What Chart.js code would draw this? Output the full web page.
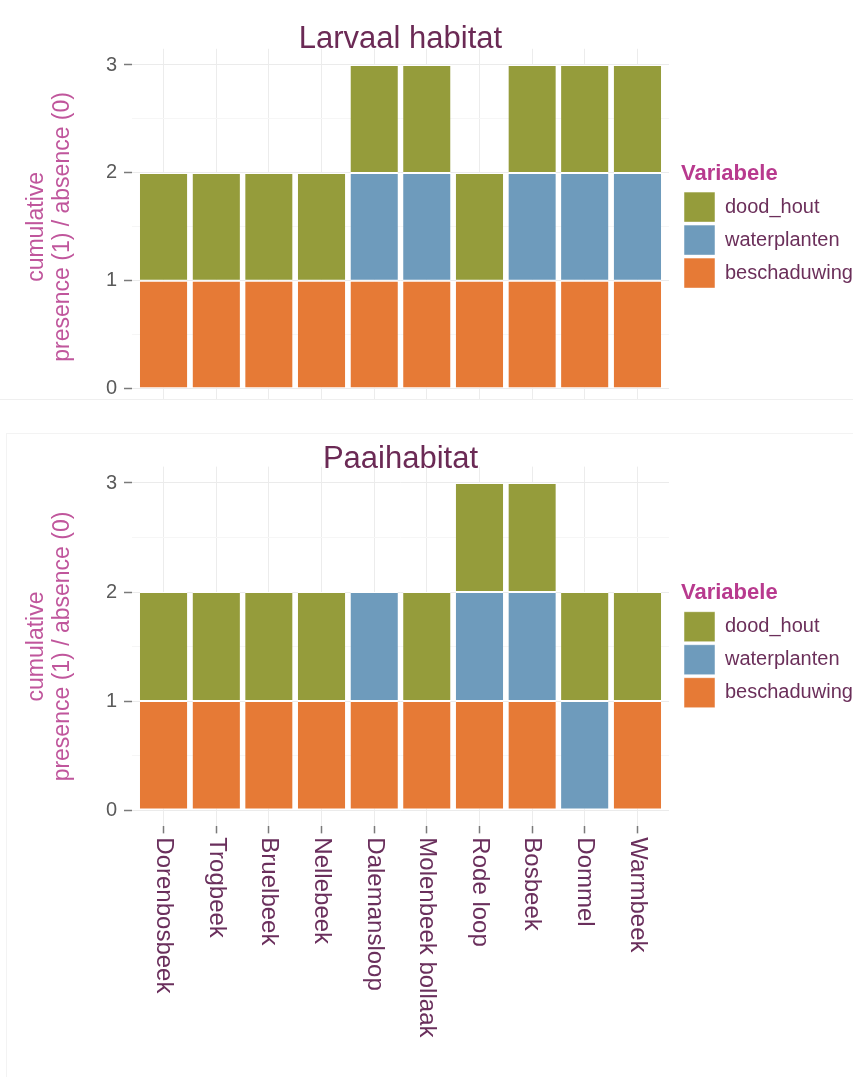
<!DOCTYPE html>
<html>
<head>
<meta charset="utf-8">
<title>Larvaal habitat / Paaihabitat</title>
<script src="https://cdn.jsdelivr.net/npm/chart.js@4/dist/chart.umd.min.js"></script>
<style>
  html, body { margin: 0; padding: 0; background: #ffffff; }
  body { position: relative; width: 853px; height: 1077px; overflow: hidden; }
  .frame { position: absolute; left: 0; width: 853px; overflow: hidden; }
  #frameTop { top: 0; height: 400px; }
  #frameBottom { top: 433px; height: 644px; }
  canvas { display: block; }
  .edge { position: absolute; background: #efefef; }
</style>
</head>
<body>
<div class="frame" id="frameTop"><canvas id="larvaal" width="853" height="422"></canvas></div>
<div class="frame" id="frameBottom"><canvas id="paai" width="853" height="644"></canvas></div>
<div class="edge" style="left:0; top:399px; width:853px; height:1px;"></div>
<div class="edge" style="left:6px; top:433px; width:847px; height:1px; background:#f3f3f3;"></div>
<div class="edge" style="left:6px; top:433px; width:1px; height:644px; background:#f3f3f3;"></div>
<script>
// ---- data ----------------------------------------------------------------
const categories = ['Dorenbosbeek', 'Trogbeek', 'Bruelbeek', 'Nellebeek', 'Dalemansloop',
                    'Molenbeek bollaak', 'Rode loop', 'Bosbeek', 'Dommel', 'Warmbeek'];
const variables = ['beschaduwing', 'waterplanten', 'dood_hout'];   // stacking order, bottom first

const larvaalBeschaduwing = [1, 1, 1, 1, 1, 1, 1, 1, 1, 1];
const larvaalWaterplanten = [0, 0, 0, 0, 1, 1, 0, 1, 1, 1];
const larvaalDoodHout     = [1, 1, 1, 1, 1, 1, 1, 1, 1, 1];

const paaiBeschaduwing = [1, 1, 1, 1, 1, 1, 1, 1, 0, 1];
const paaiWaterplanten = [0, 0, 0, 0, 1, 0, 1, 1, 1, 0];
const paaiDoodHout     = [1, 1, 1, 1, 0, 1, 1, 1, 1, 1];

const yTickValues = [0, 0.5, 1, 1.5, 2, 2.5, 3];
const yTitle = ['cumulative', 'presence (1) / absence (0)'];

// ---- styling -------------------------------------------------------------
const COLORS = {
  beschaduwing: '#e67a36',
  waterplanten: '#6e9bbc',
  dood_hout: '#959c3b'
};
const FONT = "'Liberation Sans', Arial, Helvetica, sans-serif";
Chart.defaults.font.family = FONT;

// Linear axis whose rotated tick labels hang downward from the tick (read top to bottom).
class VerticalLabelScale extends Chart.LinearScale {
  static id = 'verticalLabel';
  static defaults = Chart.LinearScale.defaults;
  _getXAxisLabelAlignment() { return 'left'; }
}
Chart.register(VerticalLabelScale);

// Centre the chart title over the plotting area and keep a gap before the legend.
const alignBlocks = {
  id: 'alignBlocks',
  afterLayout(chart) {
    const a = chart.chartArea;
    const t = chart.titleBlock;
    if (t) { t.left = a.left; t.right = a.right; t.width = a.right - a.left; }
    const lg = chart.legend;
    if (lg) { const dx = a.right + 12 - lg.left; lg.left += dx; lg.right += dx; }
  }
};

function buildDatasets(series) {
  return variables.map((name, k) => ({
    label: name,
    stack: 'presence',
    data: series[k].map((v, i) => ({ x: i, y: v })),
    backgroundColor: COLORS[name],
    borderColor: '#ffffff',
    borderWidth: { top: 1, bottom: 1, left: 0, right: 0 },
    borderSkipped: false,
    categoryPercentage: 1,
    barPercentage: 0.9
  }));
}

function makeChart(id, titleText, series, layout) {
  const isMajor = v => Number.isInteger(v);
  return new Chart(document.getElementById(id), {
    type: 'bar',
    data: { datasets: buildDatasets(series) },
    plugins: [alignBlocks],
    options: {
      responsive: false,
      devicePixelRatio: 1,
      animation: false,
      layout: { padding: { left: 0, right: 12, top: 0, bottom: 0 } },
      plugins: {
        tooltip: { enabled: false },
        title: {
          display: true,
          text: titleText,
          color: '#6b2a55',
          font: { size: 31, weight: 'normal', lineHeight: 1 },
          padding: layout.titlePadding
        },
        legend: {
          position: 'right',
          align: 'center',
          fullSize: false,
          reverse: true,
          maxWidth: 172,
          title: {
            display: true,
            text: 'Variabele',
            position: 'start',
            color: '#b83a8e',
            font: { size: 22, weight: 'bold', lineHeight: 1.2 },
            padding: 0
          },
          labels: {
            boxWidth: 31,
            boxHeight: 30,
            padding: 3,
            color: '#6b2f5a',
            font: { size: 20 }
          }
        }
      },
      scales: {
        x: {
          type: 'verticalLabel',
          min: -0.6,
          max: 9.6,
          offset: false,
          afterBuildTicks: s => { s.ticks = categories.map((_, i) => ({ value: i })); },
          afterFit: s => { s.height = layout.xHeight; },
          border: { display: false },
          grid: {
            offset: false,
            color: '#ececec',
            lineWidth: 1,
            drawTicks: layout.showLabels,
            tickColor: '#7a7a7a',
            tickLength: 7,
            tickWidth: 1.5
          },
          ticks: {
            display: layout.showLabels,
            autoSkip: false,
            minRotation: -90,
            maxRotation: -90,
            padding: 4,
            color: '#6a2f5c',
            font: { size: 24 },
            callback: (v, i) => categories[i]
          }
        },
        y: {
          stacked: true,
          min: -0.15,
          max: 3.15,
          afterBuildTicks: s => { s.ticks = yTickValues.map(v => ({ value: v })); },
          afterFit: s => { s.width = 132; },
          border: { display: false },
          grid: {
            color: c => (c.tick && isMajor(c.tick.value)) ? '#ebebeb' : '#f6f6f6',
            lineWidth: 1,
            tickColor: c => (c.tick && isMajor(c.tick.value)) ? '#7a7a7a' : 'rgba(0,0,0,0)',
            tickLength: 8,
            tickWidth: 1.5
          },
          ticks: {
            padding: 7,
            color: '#5a5a5a',
            font: { size: 20, lineHeight: 1 },
            callback: v => isMajor(v) ? String(v) : ''
          },
          title: {
            display: true,
            text: yTitle,
            color: '#c0569c',
            font: { size: 23, lineHeight: 1.13 },
            padding: { top: 24, bottom: 0 }
          }
        }
      }
    }
  });
}

makeChart('larvaal', 'Larvaal habitat',
  [larvaalBeschaduwing, larvaalWaterplanten, larvaalDoodHout],
  { titlePadding: { top: 24, bottom: -6.2 }, xHeight: 17, showLabels: false });

makeChart('paai', 'Paaihabitat',
  [paaiBeschaduwing, paaiWaterplanten, paaiDoodHout],
  { titlePadding: { top: 11, bottom: -8.35 }, xHeight: 250.65, showLabels: true });
</script>
</body>
</html>
